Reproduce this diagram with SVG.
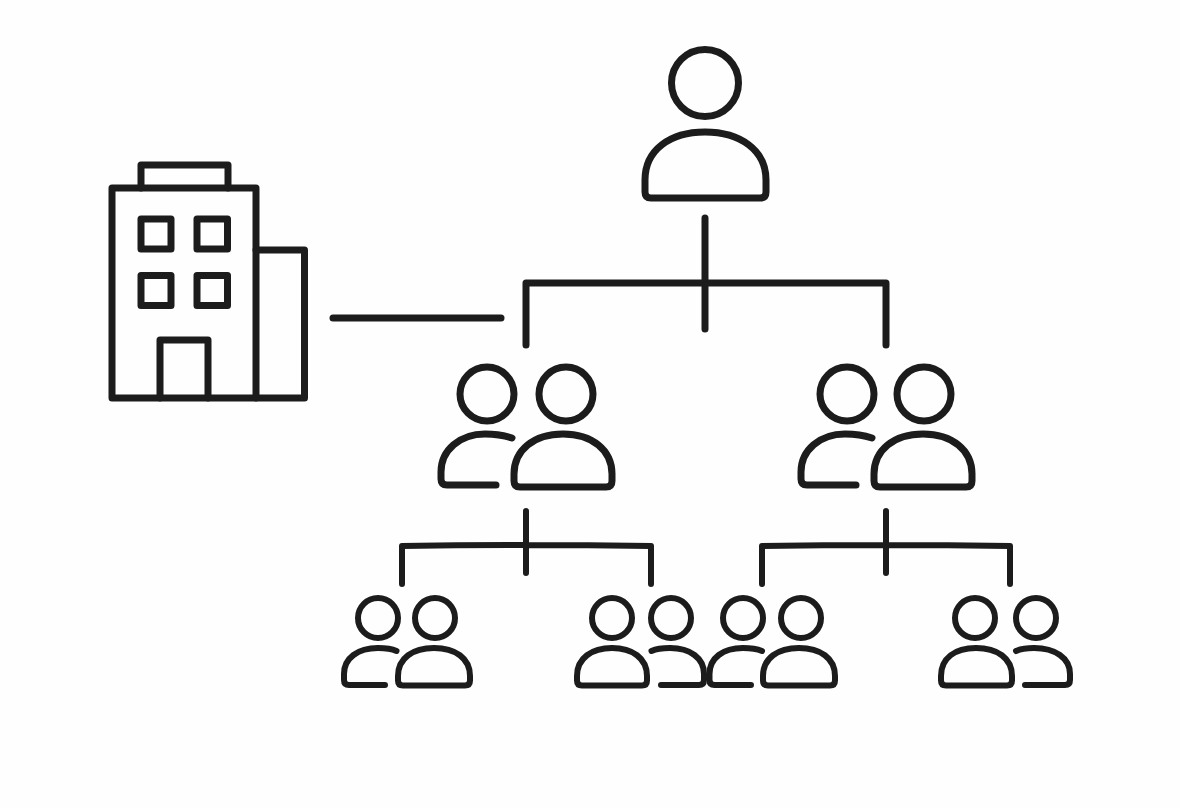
<svg xmlns="http://www.w3.org/2000/svg" width="1180" height="807" viewBox="0 0 1180 807">
<style>
.l{fill:none;stroke:#1c1c1c;stroke-width:7;stroke-linecap:round;stroke-linejoin:round}
.s{stroke-width:6}
</style>
<rect width="1180" height="807" fill="#fefefe"/>
<g id="connectors" class="l">
<path d="M705 218V329M526 345V283H886V345"/>
<path d="M333 318H501"/>
<g class="s"><path d="M526 511V573M402 584V546Q526 544 651 546V584"/>
<path d="M886 511V573M762 584V546Q886 544 1010 546V584"/></g>
</g>
<g id="building" class="l">
<path d="M112 188H256V398H112Z"/>
<path d="M141 188V165H228V188"/>
<path d="M256 250H304.500V398H256"/>
<rect x="141" y="219" width="30" height="30"/>
<rect x="197" y="219" width="30.500" height="30"/>
<rect x="141" y="275.500" width="30" height="30"/>
<rect x="197" y="275.500" width="30.500" height="30"/>
<path d="M160 398V340H208V398"/>
</g>
<g id="top-person" class="l">
<circle cx="705" cy="83" r="33.500"/>
<path d="M651 198H760Q766 198 766 192V180C766 150 740 132 705 132C670 132 645 150 645 180V192Q645 198 651 198Z"/>
</g>
<g id="team-left" class="l">
<circle cx="487" cy="394" r="27"/>
<circle cx="566" cy="394" r="27"/>
<path d="M512 438C503 435 495 434 485 434C460 434 441 450 441 472V479Q441 485 447 485H496"/>
<path d="M520 487H606Q612 487 612 481V474C612 450 592 434 563 434C534 434 514 450 514 474V481Q514 487 520 487Z"/>
</g>
<g id="team-right" class="l">
<circle cx="847" cy="394" r="27"/>
<circle cx="924" cy="394" r="27"/>
<path d="M872 438C863 435 855 434 845 434C820 434 801 450 801 472V479Q801 485 807 485H856"/>
<path d="M880 487H966Q972 487 972 481V474C972 450 952 434 923 434C894 434 874 450 874 474V481Q874 487 880 487Z"/>
</g>
<g id="group-1" class="l s">
<circle cx="378" cy="618" r="20"/>
<circle cx="435" cy="618" r="20"/>
<path d="M396.500 651C390 648 385 648 378 648C358 648 344 658 344 674V680Q344 685 349 685H385"/>
<path d="M403 685.500H465Q470 685.500 470 680.500V676C470 658 455 648 434 648C413 648 398 658 398 676V680.500Q398 685.500 403 685.500Z"/>
</g>
<g id="group-2" class="l s">
<circle cx="612" cy="618" r="20"/>
<circle cx="671" cy="618" r="20"/>
<path d="M582 685.500H642Q647 685.500 647 680.500V676C647 658 632 648 612 648C592 648 577 658 577 676V680.500Q577 685.500 582 685.500Z"/>
<path d="M651.500 651C658 648 663 648 670 648C690 648 704 658 704 674V680Q704 685 699 685H661"/>
</g>
<g id="group-3" class="l s">
<circle cx="743" cy="618" r="20"/>
<circle cx="801" cy="618" r="20"/>
<path d="M762 651C755 648 750 648 743 648C723 648 709.500 658 709.500 674V680Q709.500 685 714.500 685H751"/>
<path d="M768 685.500H830Q835 685.500 835 680.500V676C835 658 820 648 799 648C778 648 763 658 763 676V680.500Q763 685.500 768 685.500Z"/>
</g>
<g id="group-4" class="l s">
<circle cx="975" cy="618" r="20"/>
<circle cx="1036" cy="618" r="20"/>
<path d="M946 685.500H1007Q1012 685.500 1012 680.500V676C1012 658 997 648 976 648C955 648 941 658 941 676V680.500Q941 685.500 946 685.500Z"/>
<path d="M1016 651C1022 648 1027 648 1034 648C1055 648 1070 658 1070 674V680Q1070 685 1065 685H1025"/>
</g>
</svg>
